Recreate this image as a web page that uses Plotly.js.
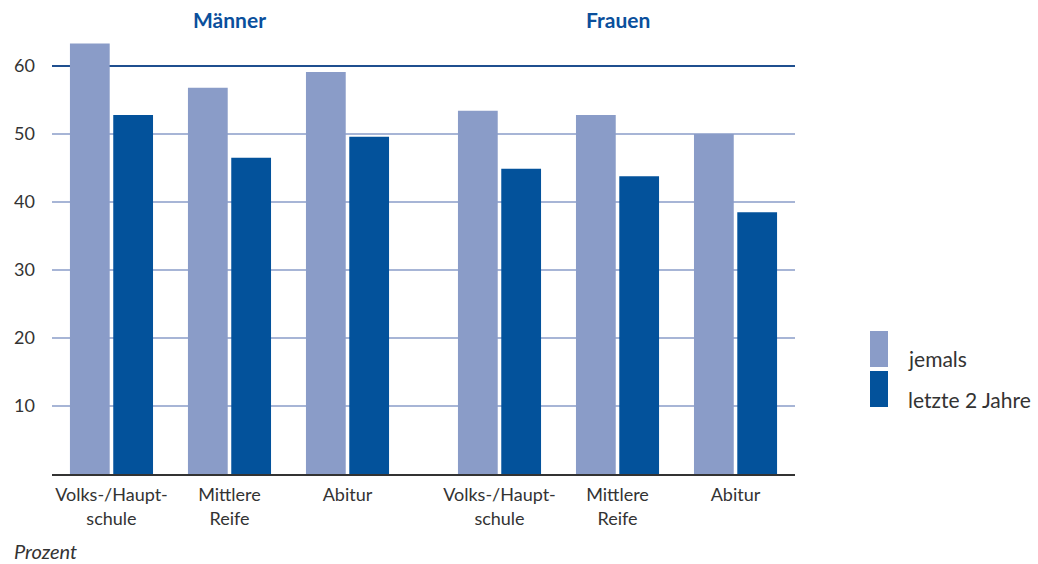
<!DOCTYPE html>
<html>
<head>
<meta charset="utf-8">
<script src="https://cdn.plot.ly/plotly-3.0.1.min.js"></script>
<style>html,body{margin:0;padding:0;background:#fff;}#chart{width:1038px;height:564px;}</style>
</head>
<body>
<div id="chart"></div>
<script>
// Data
const categories = ["Volks-/Haupt-<br>schule", "Mittlere<br>Reife", "Abitur", "Volks-/Haupt-<br>schule", "Mittlere<br>Reife", "Abitur"];
const groups = ["Männer", "Frauen"];
const positions = [0, 1, 2, 3.288, 4.288, 5.288];
const jemals = [63.3, 56.8, 59.1, 53.4, 52.8, 50.0];
const letzte2Jahre = [52.8, 46.5, 49.6, 44.9, 43.8, 38.5];
const seriesNames = ["jemals", "letzte 2 Jahre"];
const yTicks = [10, 20, 30, 40, 50, 60];

const lightBlue = "#8a9cc8";
const darkBlue = "#03529b";
const gridDark = "#1f4f8f";
const font = "Lato, 'Open Sans', sans-serif";

const traces = [
  {type: "bar", name: seriesNames[0], x: positions, y: jemals, width: 0.337, offset: -0.352,
   marker: {color: lightBlue}, hoverinfo: "y"},
  {type: "bar", name: seriesNames[1], x: positions, y: letzte2Jahre, width: 0.337, offset: 0.015,
   marker: {color: darkBlue}, hoverinfo: "y"}
];

const gridShapes = yTicks.map(v => ({
  type: "line", xref: "paper", x0: 0, x1: 1, yref: "y", y0: v, y1: v,
  line: {color: v === 60 ? gridDark : lightBlue, width: v === 60 ? 1.8 : 1.5}, layer: "below"
}));

const layout = {
  width: 1038, height: 564,
  margin: {l: 52, r: 243, t: 40, b: 90},
  paper_bgcolor: "#fff", plot_bgcolor: "#fff",
  showlegend: false,
  font: {family: font, color: "#333", size: 18},
  xaxis: {
    range: [-0.504, 5.792], tickvals: positions, ticktext: categories,
    showgrid: false, zeroline: false, showline: true, linecolor: "#333", linewidth: 1.5,
    ticks: "", ticklabelstandoff: 4, tickfont: {size: 18, color: "#333"}, fixedrange: true
  },
  yaxis: {
    range: [0, 63.82], tickvals: yTicks, ticktext: yTicks.map(String),
    showgrid: false, zeroline: false, showline: false,
    ticks: "", ticklabelstandoff: 16, tickfont: {size: 18, color: "#333"}, fixedrange: true
  },
  shapes: gridShapes.concat([
    {type: "rect", xref: "paper", yref: "paper", x0: (870-52)/743, x1: (888-52)/743,
     y0: (474-367)/434, y1: (474-331)/434, fillcolor: lightBlue, line: {width: 0}},
    {type: "rect", xref: "paper", yref: "paper", x0: (870-52)/743, x1: (888-52)/743,
     y0: (474-407)/434, y1: (474-371)/434, fillcolor: darkBlue, line: {width: 0}}
  ]),
  annotations: [
    {text: "<b>" + groups[0] + "</b>", xref: "x", x: 1, yref: "paper", y: (474-19)/434,
     showarrow: false, font: {size: 21, color: "#0a4f9c", family: font}, yanchor: "middle"},
    {text: "<b>" + groups[1] + "</b>", xref: "x", x: 4.288, yref: "paper", y: (474-19)/434,
     showarrow: false, font: {size: 21, color: "#0a4f9c", family: font}, yanchor: "middle"},
    {text: "<i>Prozent</i>", xref: "paper", x: -40/743, yref: "paper", y: (474-551)/434,
     showarrow: false, xanchor: "left", yanchor: "middle", font: {size: 20, color: "#333", family: font}},
    {text: seriesNames[0], xref: "paper", x: (906-52)/743, yref: "paper", y: (474-358)/434,
     showarrow: false, xanchor: "left", yanchor: "middle", font: {size: 21, color: "#333", family: font}},
    {text: seriesNames[1], xref: "paper", x: (906-52)/743, yref: "paper", y: (474-399)/434,
     showarrow: false, xanchor: "left", yanchor: "middle", font: {size: 21, color: "#333", family: font}}
  ]
};

Plotly.newPlot("chart", traces, layout, {displayModeBar: false, staticPlot: true});
</script>
</body>
</html>
